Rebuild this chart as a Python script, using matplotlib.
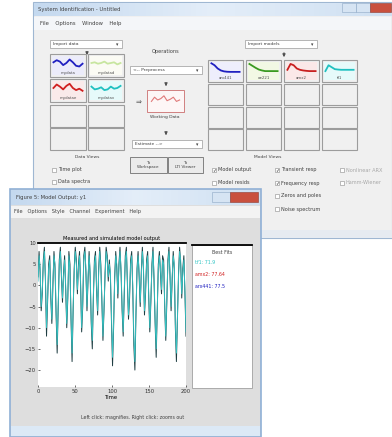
import numpy as np
import matplotlib.pyplot as plt
from matplotlib.patches import Rectangle
from matplotlib.colors import LinearSegmentedColormap

W, H = 392, 437

# front figure: measured output and simulated model output
measured = [2, 8, 3, -6, -2, 6, 9, 1, -12, -4,
            5, 7, -3, -9, 0, 8, 4, -7, -16, -5,
            6, 9, 2, -4, 3, 7, -1, -10, -3, 8,
            5, -8, -18, -6, 4, 9, 6, -2, 5, 8,
            0, -11, -5, 7, 9, 3, -6, 1, 8, 2,
            -9, -15, -3, 6, 8, -1, -7, 4, 9, 5,
            -4, -13, -6, 3, 9, 7, 1, 6, 2, -8,
            -19, -10, 2, 8, 4, -3, 5, 9, 3, -6,
            -12, -2, 7, 9, 0, -8, -3, 6, 8, -1,
            -14, -20, -7, 4, 8, 2, -5, 3, 9, 4,
            -7, -2, 6, 8, -3, -11, -4, 5, 9, 1,
            -9, -17, -6, 5, 8, 3, -2, 7, 6, -5,
            -13, -4, 6, 9, 2, -6, 1, 8, 4, -10,
            -18, -8, 3, 9, 5, -3, 4, 7, -2, -12]
simulated = [1, 7, 4, -5, -1, 5, 8, 2, -10, -3,
             4, 6, -2, -8, 1, 7, 5, -6, -14, -4,
             5, 8, 3, -3, 2, 6, 0, -9, -2, 7,
             4, -7, -16, -5, 3, 8, 5, -1, 4, 7,
             1, -10, -4, 6, 8, 4, -5, 2, 7, 3,
             -8, -13, -2, 5, 7, 0, -6, 3, 8, 4,
             -3, -12, -5, 2, 8, 6, 2, 5, 3, -7,
             -17, -9, 1, 7, 5, -2, 4, 8, 4, -5,
             -11, -1, 6, 8, 1, -7, -2, 5, 7, 0,
             -12, -18, -6, 3, 7, 3, -4, 2, 8, 5,
             -6, -1, 5, 7, -2, -10, -3, 4, 8, 2,
             -8, -15, -5, 4, 7, 4, -1, 6, 5, -4,
             -12, -3, 5, 8, 3, -5, 2, 7, 5, -9,
             -16, -7, 2, 8, 6, -2, 3, 6, -1, -11]
time_ticks = [0, 50, 100, 150, 200]
y_ticks = [10, 5, 0, -5, -10, -15, -20]

fit_labels = ["tf1: 71.9", "amx2: 77.64", "arx441: 77.5"]
fit_colors = ["#2ec4c4", "#d02020", "#2020c0"]

# data board thumbnails
data_names = ["mydata", "mydatad", "mydatae", "mydatav"]
data_colors = ["#2020c0", "#c8e6a0", "#d02020", "#20c0c0"]
data_bgs = ["#ececfa", "#fbfbf4", "#faeaea", "#e6fafa"]
data_curves = [[0.55, 0.7, 0.6, 0.35, 0.5, 0.75, 0.55, 0.3, 0.25, 0.45],
               [0.5, 0.55, 0.45, 0.5, 0.6, 0.45, 0.5, 0.55, 0.4, 0.5],
               [0.5, 0.75, 0.6, 0.4, 0.65, 0.8, 0.5, 0.35, 0.45, 0.3],
               [0.6, 0.4, 0.45, 0.55, 0.35, 0.4, 0.6, 0.45, 0.5, 0.65]]
working_curve = [0.4, 0.7, 0.5, 0.6, 0.8, 0.45, 0.55, 0.7, 0.4, 0.5]

# model board thumbnails
model_names = ["arx441", "oe221", "amx2", "tf1"]
model_colors = ["#2020c0", "#3a9a20", "#c82020", "#20c0c0"]
model_bgs = ["#eeeefc", "#f2f8e4", "#fbe8e8", "#e6fafa"]
model_curves = [[0.9, 0.75, 0.5, 0.35, 0.28, 0.25, 0.24, 0.24, 0.24, 0.24],
                [0.85, 0.7, 0.55, 0.42, 0.35, 0.3, 0.3, 0.3, 0.3, 0.3],
                [0.4, 0.85, 0.75, 0.5, 0.4, 0.35, 0.32, 0.3, 0.3, 0.3],
                [0.3, 0.75, 0.6, 0.45, 0.42, 0.4, 0.4, 0.4, 0.4, 0.4]]

fig = plt.figure(figsize=(W / 100, H / 100), dpi=100)
fig.patch.set_facecolor("white")


def px_axes(x0, y0, w, h):
    return fig.add_axes([x0 / W, 1 - (y0 + h) / H, w / W, h / H])


bg = px_axes(0, 0, W, H)
bg.set_axis_off()

title_cmap = LinearSegmentedColormap.from_list("tb", ["#c4d9ef", "#e4eef9", "#cfe0f2"])


def rect(x, y, w, h, fc, ec="none", lw=0.6, z=1):
    bg.add_patch(Rectangle((x, y), w, h, facecolor=fc, edgecolor=ec, lw=lw, zorder=z))


def txt(x, y, s, size=3.6, color="#404040", ha="left", z=5, **kw):
    bg.text(x, y, s, fontsize=size, color=color, ha=ha, va="center", zorder=z, **kw)


def checkbox(x, y, label, checked=False, grey=False):
    rect(x, y - 2, 4, 4, "white", "#8a8a8a", 0.4, z=3)
    if checked:
        txt(x + 0.4, y, "\u2713", size=3.6, color="#303030")
    txt(x + 6, y, label, color="#a8a8a8" if grey else "#404040")


# ---------------- main System Identification window ----------------
rect(33, 2, 359, 236, "#f0f0f0", "#9fb7d2", 0.8, z=1)
bg.imshow(np.linspace(0, 1, 64).reshape(1, -1), cmap=title_cmap, aspect="auto",
          extent=(34, 392, 16, 3), zorder=2)
rect(342, 3, 14, 9, "#d6e4f3", "#8ea8c6", 0.4, z=3)
rect(356, 3, 14, 9, "#d6e4f3", "#8ea8c6", 0.4, z=3)
rect(370, 3, 21, 9, "#c9503e", "#8e3a30", 0.4, z=3)
txt(38, 9.5, "System Identification - Untitled", size=3.8)
rect(34, 17, 357, 13, "#f4f6f9", z=2)
txt(40, 24, "File    Options    Window    Help", size=3.8)

# import data / models comboboxes
for x0, lab in [(50, "Import data"), (245, "Import models")]:
    rect(x0, 40, 72, 8, "white", "#9a9a9a", 0.5, z=3)
    txt(x0 + 3, 44, lab, size=3.2)
    txt(x0 + 66, 44.5, "\u25be", size=3.4)
bg.annotate("", xy=(87, 58), xytext=(87, 49),
            arrowprops=dict(arrowstyle="-|>", lw=0.8, color="#505050", mutation_scale=4))
bg.annotate("", xy=(284, 60), xytext=(284, 50),
            arrowprops=dict(arrowstyle="-|>", lw=0.8, color="#505050", mutation_scale=4))

txt(166, 52, "Operations", size=3.6, ha="center")
rect(130, 66, 72, 8, "white", "#9a9a9a", 0.5, z=3)
txt(133, 70, "<-- Preprocess", size=3.2)
txt(196, 70.5, "\u25be", size=3.4)
bg.annotate("", xy=(166, 89), xytext=(166, 81),
            arrowprops=dict(arrowstyle="-|>", lw=0.8, color="#505050", mutation_scale=4))
txt(136, 103, "\u21d2", size=5, color="#505050")

# working data box
rect(147, 90, 37, 22, "#fdf6f6", "#d08080", 0.7, z=3)
wax = px_axes(150, 93, 31, 14)
wax.plot(np.arange(len(working_curve)), working_curve, color="#e07a7a", lw=0.8)
wax.set_ylim(0, 1)
wax.set_axis_off()
txt(165, 117, "Working Data", size=3.2, ha="center")
bg.annotate("", xy=(166, 138), xytext=(166, 130),
            arrowprops=dict(arrowstyle="-|>", lw=0.8, color="#505050", mutation_scale=4))
rect(132, 140, 70, 8, "white", "#9a9a9a", 0.5, z=3)
txt(135, 144, "Estimate -->", size=3.2)
txt(196, 144.5, "\u25be", size=3.4)
for x0, w, lab in [(130, 37, "To\nWorkspace"), (168, 35, "To\nLTI Viewer")]:
    rect(x0, 157, w, 16, "#ebebeb", "#707070", 0.6, z=3)
    txt(x0 + w / 2, 165, lab, size=3.0, ha="center", linespacing=1.1)


def thumb(x0, y0, w, h, curve, color, face, label):
    rect(x0, y0, w, h, "#f0f0f0", "#9c9c9c", 0.8, z=3)
    if curve is None:
        return
    tax = px_axes(x0 + 2, y0 + 2, w - 4, h - 9)
    tax.set_facecolor(face)
    tax.plot(np.arange(len(curve)), curve, color=color, lw=1.3)
    tax.set_ylim(0, 1)
    tax.set_xticks([])
    tax.set_yticks([])
    for s in tax.spines.values():
        s.set_visible(False)
    rect(x0 + 2, y0 + h - 7, w - 4, 5, face, z=4)
    txt(x0 + w / 2, y0 + h - 4.3, label, size=2.8, ha="center", color="#505050")


# data board 2 x 4
left_cols = [50, 88]
left_rows = [54, 79, 105, 128]
k = 0
for r, y0 in enumerate(left_rows):
    for c, x0 in enumerate(left_cols):
        if k < len(data_curves):
            thumb(x0, y0, 36, 23, data_curves[k], data_colors[k], data_bgs[k], data_names[k])
        else:
            thumb(x0, y0, 36, 22, None, None, None, None)
        k += 1

# model board 4 x 4
right_cols = [208, 246, 284, 322]
right_rows = [60, 84, 107, 129]
k = 0
for r, y0 in enumerate(right_rows):
    for c, x0 in enumerate(right_cols):
        if k < len(model_curves):
            thumb(x0, y0, 35, 22, model_curves[k], model_colors[k], model_bgs[k], model_names[k])
        else:
            thumb(x0, y0, 35, 21, None, None, None, None)
        k += 1

txt(87, 157, "Data Views", size=3.2, ha="center")
checkbox(52, 170, "Time plot")
checkbox(52, 182, "Data spectra")
txt(268, 157, "Model Views", size=3.2, ha="center")
checkbox(212, 170, "Model output", True)
checkbox(212, 183, "Model resids")
checkbox(275, 170, "Transient resp", True)
checkbox(275, 183, "Frequency resp", True)
checkbox(275, 196, "Zeros and poles")
checkbox(275, 209, "Noise spectrum")
checkbox(340, 170, "Nonlinear ARX", grey=True)
checkbox(340, 183, "Hamm-Wiener", grey=True)
rect(33, 230, 359, 8, "#e6ebf1", z=2)

# ---------------- front figure window ----------------
rect(10, 189, 251, 248, "#dedede", "#8fb0d6", 1.2, z=6)
bg.imshow(np.linspace(0, 1, 64).reshape(1, -1), cmap=title_cmap, aspect="auto",
          extent=(11, 260, 205, 190), zorder=7)
rect(212, 192, 18, 10, "#d6e4f3", "#8ea8c6", 0.4, z=8)
rect(230, 192, 28, 10, "#c9503e", "#8e3a30", 0.4, z=8)
txt(16, 197.5, "Figure 5: Model Output: y1", size=3.8, z=9)
rect(11, 206, 249, 12, "#f3f3f3", z=7)
txt(14, 212, "File   Options   Style   Channel   Experiment   Help", size=3.6, z=9)
rect(11, 426, 249, 10, "#dce9f6", z=7)
txt(133, 418, "Left click: magnifies. Right click: zooms out", size=3.4, ha="center", z=9)

# legend panel
rect(192, 245, 60, 143, "white", "#a0a0a0", 0.6, z=8)
bg.plot([192, 252], [245, 245], color="black", lw=1.3, zorder=9)
txt(222, 252, "Best Fits", size=3.4, ha="center", z=9)
for i, lab in enumerate(fit_labels):
    txt(195, 263 + 12 * i, lab, size=3.4, color=fit_colors[i], z=9)

bg.set_xlim(0, W)
bg.set_ylim(H, 0)

ax = px_axes(38, 243, 148, 144)
t = np.linspace(time_ticks[0], time_ticks[-1], len(measured))
ax.plot(t, measured, color="#1f3d42", lw=0.7)
ax.plot(t, simulated, color="#35c4c4", lw=0.65)
ax.set_xlim(time_ticks[0], time_ticks[-1])
ax.set_ylim(-24, 10)
ax.set_xticks(time_ticks)
ax.set_yticks(y_ticks)
ax.tick_params(labelsize=3.8, length=1.5, width=0.5, pad=1.5, colors="#303030", direction="in")
for side in ["left", "right", "bottom"]:
    ax.spines[side].set_visible(False)
ax.spines["top"].set_linewidth(1.3)
ax.set_title("Measured and simulated model output", fontsize=3.6, pad=2.5)
ax.set_xlabel("Time", fontsize=3.8, labelpad=1)

fig.savefig("out.png", dpi=100)
